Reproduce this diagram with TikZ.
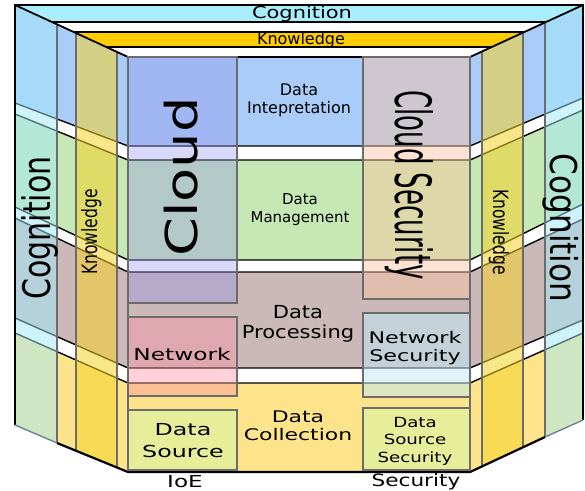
\documentclass[tikz,border=0pt]{standalone}
\usepackage{fontspec}
\setmainfont{DejaVu Sans}
\usepackage{graphicx}
\definecolor{lblue}{RGB}{170,204,248}
\definecolor{lgreen}{RGB}{198,232,180}
\definecolor{lbrown}{RGB}{203,185,185}
\definecolor{lyellow}{RGB}{253,228,138}
\definecolor{topcyan}{RGB}{170,238,252}
\definecolor{topgold}{RGB}{255,204,0}
\definecolor{cogov}{RGB}{161,233,249}
\definecolor{knowov}{RGB}{245,210,40}
\definecolor{cloudov}{RGB}{144,144,235}
\definecolor{csecov}{RGB}{250,195,160}
\definecolor{netov}{RGB}{255,140,160}
\definecolor{nsecov}{RGB}{193,233,249}
\definecolor{dsrc}{RGB}{230,238,154}
\definecolor{edgegrey}{RGB}{108,108,108}
\definecolor{thinedge}{RGB}{110,130,150}
\newcommand{\tx}[4]{\scalebox{#2}[1]{\fontsize{#1}{#3}\selectfont\begin{tabular}{@{}c@{}}#4\end{tabular}}}
\newcommand{\vt}[3]{\scalebox{#2}[1]{\fontsize{#1}{#1}\selectfont #3}}
\begin{document}
\begin{tikzpicture}[x=1pt,y=-1pt,
  blk/.style={black, line width=1.4pt},
  stripline/.style={edgegrey, line width=1.8pt},
  boxe/.style={edgegrey, line width=1.4pt},
  lab/.style={inner sep=0pt, outer sep=0pt, text=black}]
\useasboundingbox (0,0) rectangle (585,490);
\fill[white] (0,0) rectangle (585,490);
% layers
\fill[lblue] (15,5) -- (128,57) -- (470,57) -- (583,5) -- (583,98) -- (470,146) -- (128,146) -- (15,103) -- cycle;
\fill[lgreen] (15,114) -- (128,160) -- (470,160) -- (583,110) -- (583,204) -- (470,260) -- (128,260) -- (15,207) -- cycle;
\fill[lbrown] (15,218) -- (128,272) -- (470,272) -- (583,219) -- (583,320) -- (470,368) -- (128,368) -- (15,318) -- cycle;
\fill[lyellow] (15,333) -- (128,383) -- (470,383) -- (583,333) -- (583,420) -- (470,472) -- (128,472) -- (15,425) -- cycle;
% roof
\begin{scope}
\clip (15,5) -- (583,5) -- (470,57) -- (128,57) -- cycle;
\fill[topcyan] (0,5) rectangle (585,22);
\fill[topgold] (0,32) rectangle (585,47);
\draw[blk] (0,22) -- (585,22) (0,32) -- (585,32) (0,47) -- (585,47);
\end{scope}
% layer boundaries
\draw[blk] (15,103) -- (128,146) -- (470,146) -- (583,98);
\draw[blk] (15,114) -- (128,160) -- (470,160) -- (583,110);
\draw[blk] (15,207) -- (128,260) -- (470,260) -- (583,204);
\draw[blk] (15,218) -- (128,272) -- (470,272) -- (583,219);
\draw[blk] (15,318) -- (128,368) -- (470,368) -- (583,320);
\draw[blk] (15,333) -- (128,383) -- (470,383) -- (583,333);
% side strips
\begin{scope}
\clip (15,5) -- (128,57) -- (470,57) -- (583,5) -- (583,420) -- (470,472) -- (128,472) -- (15,425) -- cycle;
\fill[cogov, fill opacity=.5] (15,0) rectangle (57,490) (545,0) rectangle (583,490);
\fill[knowov, fill opacity=.55] (76,0) rectangle (117,490) (482,0) rectangle (523,490);
\draw[stripline] (57,0) -- (57,490) (76,0) -- (76,490) (117,0) -- (117,490) (128,0) -- (128,490)
  (470,0) -- (470,490) (482,0) -- (482,490) (523,0) -- (523,490) (545,0) -- (545,490);
\end{scope}
% outline
\draw[line width=2pt] (15,425) -- (15,5) -- (583,5) -- (583,420);
\draw[line width=1.8pt] (15,5) -- (128,57) -- (470,57) -- (583,5);
\draw[line width=2.2pt] (57,443) -- (128,472) -- (470,472) -- (545,437);
\draw[thinedge, line width=1.4pt] (15,425) -- (57,443) (545,437) -- (583,420);
% boxes
\draw[boxe, fill=cloudov, fill opacity=.35] (128,57) rectangle (237,303);
\draw[boxe, fill=netov, fill opacity=.4] (128,317) rectangle (237,396);
\draw[boxe, fill=dsrc] (128,410) rectangle (237,470);
\draw[boxe, fill=csecov, fill opacity=.45] (363,57) rectangle (470,299);
\draw[boxe, fill=nsecov, fill opacity=.5] (363,313) rectangle (470,397);
\draw[boxe, fill=dsrc] (363,408) rectangle (470,470);
% texts
\node[lab] (tcog) at (302,14) {\tx{16.5}{1.27}{20}{Cognition}};
\node[lab] (tknow) at (301,41) {\tx{16}{1}{19}{Knowledge}};
\node[lab] (di) at (299,100.4) {\tx{16}{1}{18}{Data\\Intepretation}};
\node[lab] (dm) at (300,210) {\tx{15}{1}{18}{Data\\Management}};
\node[lab] (dp) at (298,324) {\tx{18}{1.17}{20}{Data\\Processing}};
\node[lab] (dc) at (298,428) {\tx{16}{1.37}{17.3}{Data\\Collection}};
\node[lab] (net) at (182,356) {\tx{16.5}{1.41}{20}{Network}};
\node[lab] (nsec) at (415,348.4) {\tx{16}{1.39}{18}{Network\\Security}};
\node[lab] (dsrcl) at (183,441.6) {\tx{16.5}{1.44}{22}{Data\\Source}};
\node[lab] (dss) at (415,441) {\tx{14}{1.3}{17.5}{Data\\Source\\Security}};
\node[lab] (ioe) at (185,483) {\tx{16.5}{1.4}{20}{IoE}};
\node[lab] (sec) at (416,482) {\tx{17}{1.27}{20}{Security}};
\node[lab, rotate=90, anchor=base] (cloud) at (197,177) {\vt{44}{1.27}{Cloud}};
\node[lab, rotate=-90, anchor=base] (csec) at (395,185) {\vt{50}{0.52}{Cloud Security}};
\node[lab, rotate=90, anchor=base] (lcog) at (50,228) {\vt{38}{0.79}{Cognition}};
\node[lab, rotate=-90, anchor=base] (rcog) at (550,228) {\vt{37}{0.84}{Cognition}};
\node[lab, rotate=90, anchor=base] (lknow) at (97,232) {\vt{21}{0.74}{Knowledge}};
\node[lab, rotate=-90, anchor=base] (rknow) at (493,232) {\vt{21}{0.74}{Knowledge}};
\end{tikzpicture}
\end{document}
